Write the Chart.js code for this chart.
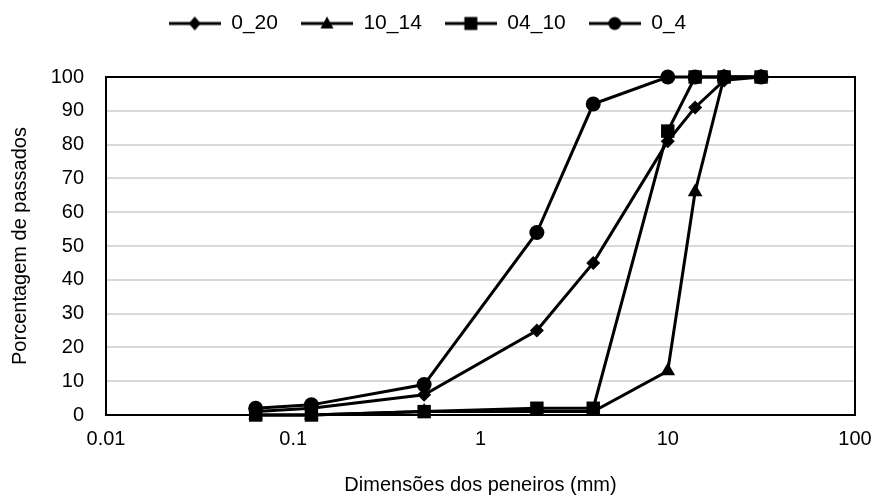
<!DOCTYPE html>
<html>
<head>
<meta charset="utf-8">
<script src="https://cdn.jsdelivr.net/npm/chart.js@4/dist/chart.umd.min.js"></script>
<style>
html, body { margin: 0; padding: 0; background: #fff; }
#wrap { width: 876px; height: 499px; position: relative; }
</style>
</head>
<body>
<div id="wrap"><canvas id="myChart"></canvas></div>
<script>
// aberturas dos peneiros (mm)
const peneiros = [0.063, 0.125, 0.5, 2, 4, 10, 14, 20, 31.5];

const nomesSeries = ['0_20', '10_14', '04_10', '0_4'];
const estilos = ['rectRot', 'triangle', 'rect', 'circle'];
const raios = [7, 8.5, 9.5, 7.5];

// percentagem de passados
const passados_0_20 = [1, 2, 6, 25, 45, 81, 91, 99, 100];
const passados_10_14 = [0, 0, 1, 1, 1, 13, 66, 100, 100];
const passados_04_10 = [0, 0, 1, 2, 2, 84, 100, 100, 100];
const passados_0_4 = [2, 3, 9, 54, 92, 100, 100, 100, 100];

const ticksX = [0.01, 0.1, 1, 10, 100];

const FONTE = "'Liberation Sans', Arial, sans-serif";

function pontos(valores) {
    var lista = [];
    for (var i = 0; i < peneiros.length; i++) {
        lista.push({ x: peneiros[i], y: valores[i] });
    }
    return lista;
}

// icone da legenda: linha com o marcador no meio
function iconeLegenda(estilo) {
    var c = document.createElement('canvas');
    c.width = 52;
    c.height = 18;
    var ctx = c.getContext('2d');
    ctx.strokeStyle = '#000';
    ctx.lineWidth = 3;
    ctx.beginPath();
    ctx.moveTo(0, 9);
    ctx.lineTo(52, 9);
    ctx.stroke();
    ctx.fillStyle = '#000';
    ctx.beginPath();
    if (estilo === 'rectRot') {
        ctx.moveTo(26, 2); ctx.lineTo(32, 9); ctx.lineTo(26, 16); ctx.lineTo(20, 9);
    } else if (estilo === 'triangle') {
        ctx.moveTo(26, 2); ctx.lineTo(32.5, 14); ctx.lineTo(19.5, 14);
    } else if (estilo === 'rect') {
        ctx.rect(19.5, 2.5, 13, 13);
    } else {
        ctx.arc(26, 9, 6.5, 0, Math.PI * 2);
    }
    ctx.closePath();
    ctx.fill();
    return c;
}

const todos = [passados_0_20, passados_10_14, passados_04_10, passados_0_4];

const datasets = todos.map(function (valores, i) {
    return {
        label: nomesSeries[i],
        data: pontos(valores),
        borderColor: '#000',
        backgroundColor: '#000',
        borderWidth: 3,
        pointStyle: estilos[i],
        pointRadius: raios[i],
        pointBorderWidth: 0,
        pointBackgroundColor: '#000',
        tension: 0,
        clip: false,
        order: todos.length - i
    };
});

const icones = estilos.map(iconeLegenda);

const moldura = {
    id: 'moldura',
    beforeInit(chart) {
        const fitOriginal = chart.legend.fit;
        chart.legend.fit = function () {
            fitOriginal.bind(chart.legend)();
            this.height += 33;
        };
    },
    afterDatasetsDraw(chart) {
        const a = chart.chartArea;
        const ctx = chart.ctx;
        ctx.save();
        ctx.strokeStyle = '#000';
        ctx.lineWidth = 2;
        ctx.strokeRect(a.left, a.top, a.right - a.left, a.bottom - a.top);
        ctx.restore();
    }
};

window.onload = (event) => {

var myChart = new Chart(
    document.getElementById('myChart'),
    {
        type: 'line',
        data: { datasets: datasets },
        plugins: [moldura],
        options: {
            responsive: true,
            maintainAspectRatio: false,
            animation: false,
            layout: { padding: { left: 0, right: 21, top: -10, bottom: 0 } },
            plugins: {
                tooltip: { enabled: false },
                legend: {
                    position: 'top',
                    labels: {
                        usePointStyle: true,
                        pointStyleWidth: 52,
                        padding: 23,
                        color: '#000',
                        font: { family: FONTE, size: 21 },
                        generateLabels: function (chart) {
                            return chart.data.datasets.map(function (ds, i) {
                                return {
                                    text: ds.label,
                                    pointStyle: icones[i],
                                    fillStyle: '#000',
                                    strokeStyle: '#000',
                                    lineWidth: 0,
                                    fontColor: '#000',
                                    hidden: false,
                                    datasetIndex: i
                                };
                            });
                        }
                    }
                }
            },
            scales: {
                x: {
                    type: 'logarithmic',
                    min: 0.01,
                    max: 100,
                    afterBuildTicks: function (scale) {
                        scale.ticks = ticksX.map(function (v) { return { value: v }; });
                    },
                    afterFit: function (scale) { scale.height = 84; },
                    ticks: {
                        autoSkip: false,
                        maxRotation: 0,
                        padding: 4,
                        color: '#000',
                        font: { family: FONTE, size: 20 },
                        callback: function (v) { return String(v); }
                    },
                    grid: { display: false },
                    border: { display: false },
                    title: {
                        display: true,
                        text: 'Dimensões dos peneiros (mm)',
                        color: '#000',
                        font: { family: FONTE, size: 20 },
                        padding: { top: 4, bottom: 2 }
                    }
                },
                y: {
                    min: 0,
                    max: 100,
                    afterFit: function (scale) { scale.width = 106; },
                    ticks: {
                        stepSize: 10,
                        padding: 22,
                        color: '#000',
                        font: { family: FONTE, size: 20 }
                    },
                    grid: { color: '#d9d9d9', lineWidth: 2, drawTicks: false },
                    border: { display: false },
                    title: {
                        display: true,
                        text: 'Porcentagem de passados',
                        color: '#000',
                        font: { family: FONTE, size: 20 },
                        padding: { top: 8, bottom: 0 }
                    }
                }
            }
        }
    }
);

};
</script>
</body>
</html>
